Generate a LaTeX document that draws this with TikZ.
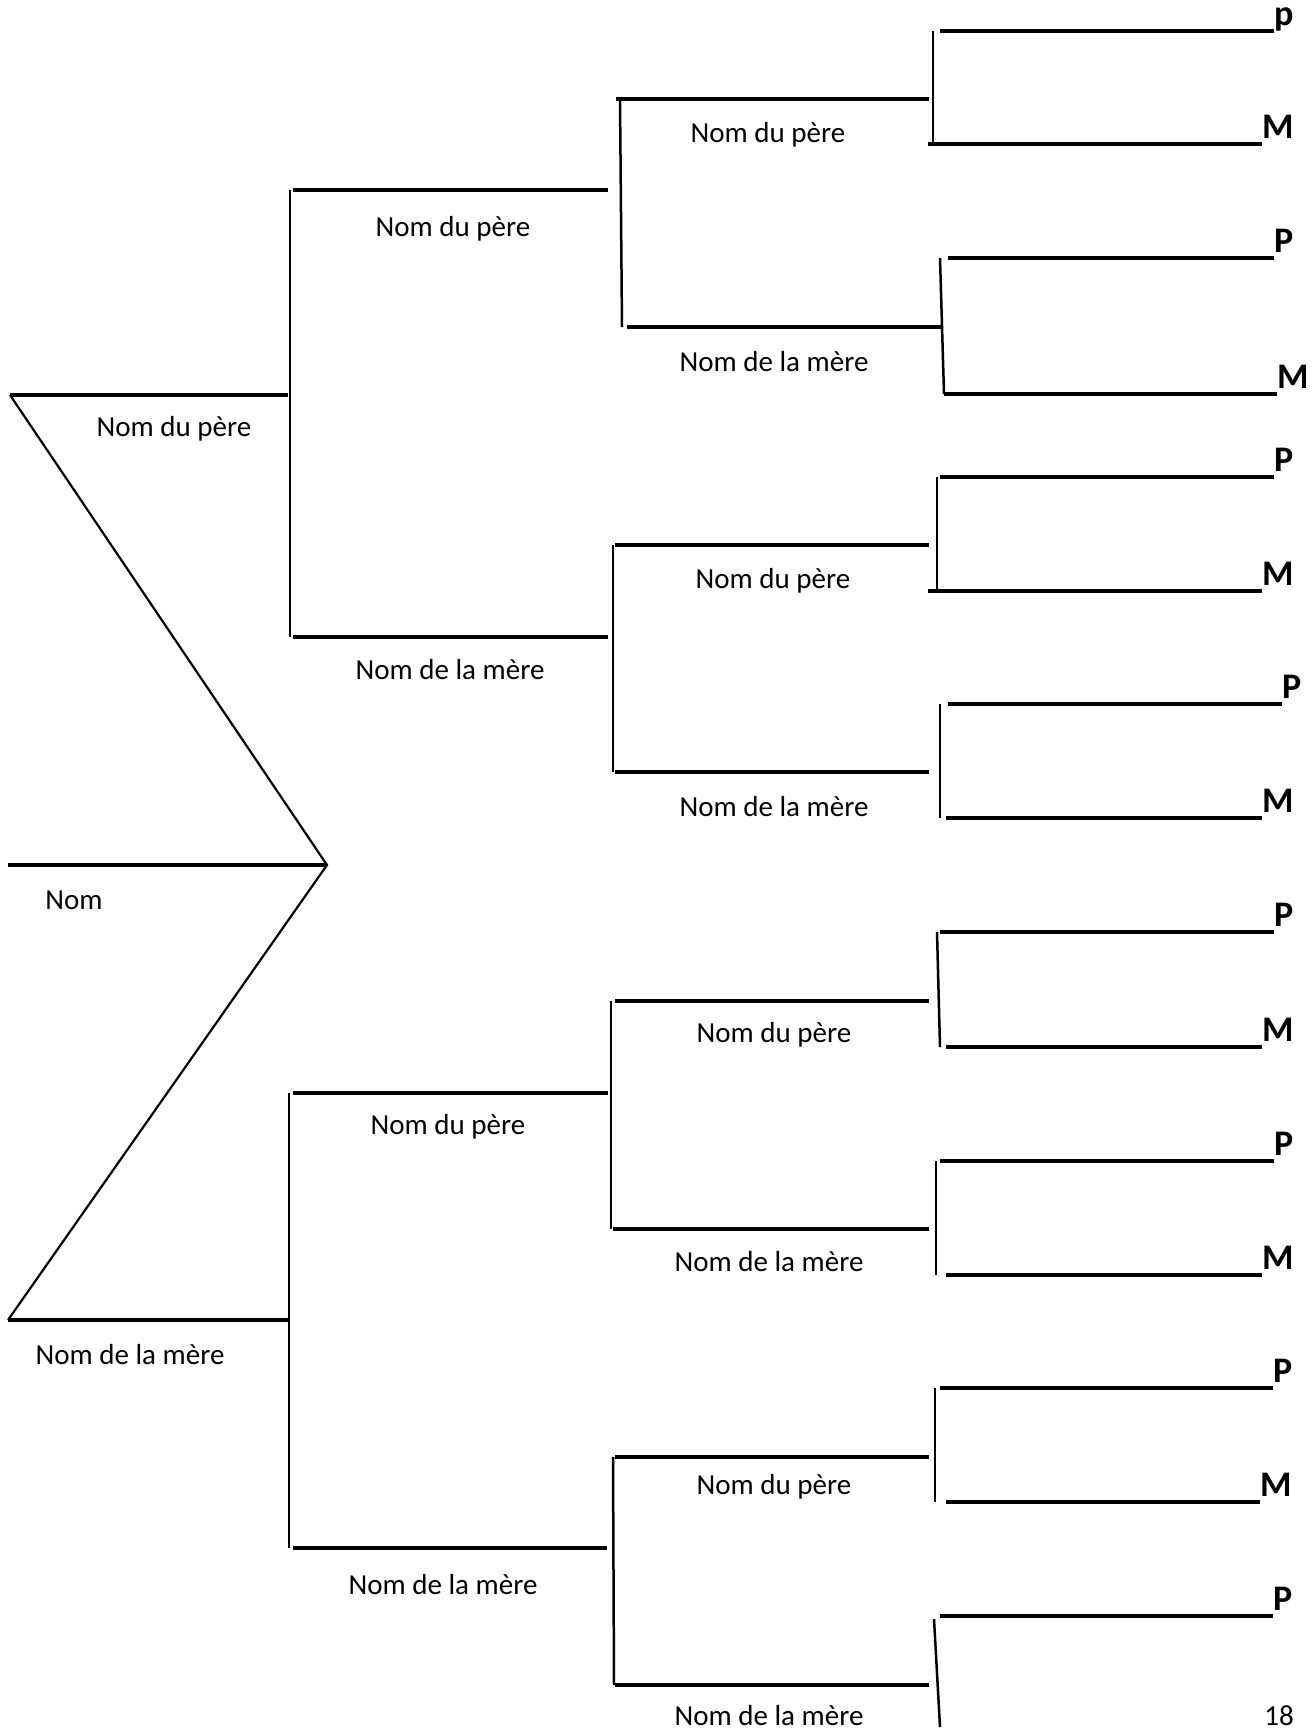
\documentclass[tikz,border=0pt]{standalone}
\usepackage{fontspec}
\setmainfont{Carlito}
\newcommand\famfork[9]{%
  \coordinate (#1vt) at (#2,#4); \coordinate (#1vb) at (#3,#5);
  \coordinate (#1t0) at (#6,#4); \coordinate (#1t1) at (#7,#4);
  \coordinate (#1b0) at (#8,#5); \coordinate (#1b1) at (#9,#5);
  \draw[vl] (#1vt) -- (#1vb);
  \draw[hl] (#1t0) -- (#1t1);
  \draw[hl] (#1b0) -- (#1b1);}
\begin{document}
\begin{tikzpicture}[x=1pt,y=-1pt,
  hl/.style={line width=3.3pt},
  vl/.style={line width=2.5pt},
  dl/.style={line width=2.2pt, line join=miter},
  lbl/.style={font=\fontsize{29}{30}\selectfont, inner sep=0pt},
  lt/.style={font=\bfseries\fontsize{36}{36}\selectfont, inner sep=0pt, anchor=base west}]
\useasboundingbox[fill=white] (0,0) rectangle (1316,1732);

% root
\coordinate (r0) at (8,865);  \coordinate (r1) at (327,865);
\coordinate (f0) at (10,395); \coordinate (f1) at (288,395);
\coordinate (m0) at (8,1320); \coordinate (m1) at (288,1320);
\draw[hl] (r0) -- (r1);
\draw[dl] (f0) -- (r1) -- (m0);
\draw[hl] (f0) -- (f1);
\draw[hl] (m0) -- (m1);
\node[lbl] (lnom) at (74,900) {Nom};
\node[lbl] (lf) at (174,429) {Nom du père};
\node[lbl] (lm) at (130,1355) {Nom de la mère};

% level 2
\famfork{A}{290}{290}{190}{637}{293}{608}{293}{608}
\famfork{B}{289}{289}{1093}{1548}{293}{608}{293}{607}
\node[lbl] (lAt) at (453,229) {Nom du père};
\node[lbl] (lAb) at (450,670) {Nom de la mère};
\node[lbl] (lBt) at (448,1127) {Nom du père};
\node[lbl] (lBb) at (443,1585) {Nom de la mère};

% level 3
\famfork{C}{620}{622}{99}{327}{616}{929}{627}{942}
\famfork{D}{613}{613}{545}{772}{615}{929}{615}{929}
\famfork{E}{611}{611}{1001}{1229}{615}{929}{613}{929}
\famfork{F}{613}{614}{1457}{1685}{615}{929}{615}{929}
\node[lbl] (lCt) at (768,135) {Nom du père};
\node[lbl] (lCb) at (774,362) {Nom de la mère};
\node[lbl] (lDt) at (773,581) {Nom du père};
\node[lbl] (lDb) at (774,807) {Nom de la mère};
\node[lbl] (lEt) at (774,1035) {Nom du père};
\node[lbl] (lEb) at (769,1262) {Nom de la mère};
\node[lbl] (lFt) at (774,1487) {Nom du père};
\node[lbl] (lFb) at (769,1716) {Nom de la mère};

% level 4
\famfork{G}{933}{933}{31}{144}{940}{1274}{928}{1262}
\famfork{H}{940}{944}{258}{394}{948}{1274}{944}{1277}
\famfork{I}{937}{937}{477}{591}{940}{1274}{928}{1262}
\famfork{J}{940}{940}{704}{818}{948}{1282}{946}{1262}
\famfork{K}{937}{940}{932}{1047}{940}{1274}{946}{1262}
\famfork{L}{936}{936}{1161}{1275}{940}{1274}{946}{1262}
\famfork{M}{935}{935}{1388}{1502}{940}{1273}{946}{1260}
\coordinate (Nvt) at (934,1619); \coordinate (Nvb) at (940,1727);
\coordinate (Nt0) at (940,1616); \coordinate (Nt1) at (1273,1616);
\draw[vl] (Nvt) -- (Nvb);
\draw[hl] (Nt0) -- (Nt1);

\node[lt] (Gp) at ([yshift=6pt]Gt1) {p};
\node[lt] (Gm) at ([yshift=6pt]Gb1) {M};
\foreach \g in {H,I,J,K,L,M}{
  \node[lt] (\g p) at ([yshift=6pt]\g t1) {P};
  \node[lt] (\g m) at ([yshift=6pt]\g b1) {M};
}
\node[lt] (Np) at ([yshift=6pt]Nt1) {P};

\node[lbl] (page) at (1279,1716) {18};
\end{tikzpicture}
\end{document}
